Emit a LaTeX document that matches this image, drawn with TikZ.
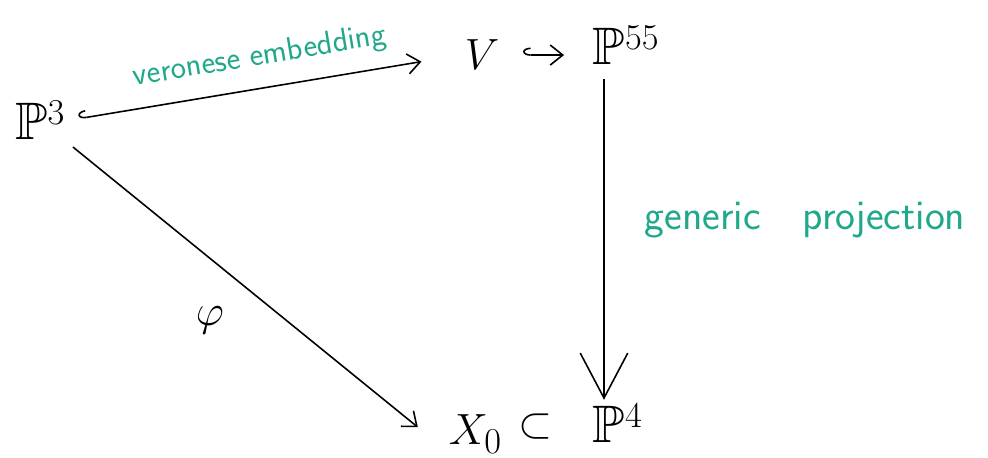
\documentclass[tikz,border=0pt]{standalone}
\usepackage{xcolor}
\usepackage{amsmath}
\usepackage{amssymb}
\DeclareFontFamily{U}{msb}{}
\DeclareFontShape{U}{msb}{m}{n}{<-6> msbm5 <6-8> msbm7 <8-> msbm10}{}
\usetikzlibrary{arrows.meta,positioning,calc}
\definecolor{noteTeal}{HTML}{20A88A}
\tikzset{
  mathObj/.style={
    inner sep=2pt,
    font=\fontsize{30}{36}\selectfont
  },
  noteText/.style={
    text=noteTeal,
    font=\sffamily\fontsize{18.5}{22}\selectfont
  },
  mapArrow/.style={
    -{Straight Barb[length=2.5mm,width=4mm]},
    line width=0.9pt
  },
  embedArrow/.style={
    {Hooks[right,length=1.5mm,width=3mm]}-{Straight Barb[length=2.5mm,width=4mm]},
    line width=0.9pt
  },
  projArrow/.style={
    -{Straight Barb[length=9mm,width=9.5mm]},
    line width=0.9pt
  }
}
\begin{document}
\begin{tikzpicture}
  \useasboundingbox (0,0) rectangle (19.76,9.16);

  \node[mathObj, anchor=base west] (P3) at (0.23,6.36) {$\mathbb{P}^3$};
  \node[mathObj, anchor=base] (V) at (9.64,7.76) {$V$};
  \node[mathObj, anchor=base west] (P55) at (11.78,7.86) {$\mathbb{P}^{55}$};

  \node[mathObj, anchor=base west] (X0) at (8.9,0.26) {$X_0$};
  \node[mathObj] (sub) at (10.72,0.62) {$\subset$};
  \node[mathObj, anchor=base west] (P4) at (11.78,0.30) {$\mathbb{P}^4$};

  \node[mathObj] (phi) at (4.2,2.76) {$\varphi$};
  \node[noteText, font=\sffamily\fontsize{24}{28}\selectfont] (proj) at (16.1,4.76) {generic\quad projection};

  \draw[embedArrow, shorten <=2mm, shorten >=8mm] (P3.east) -- (V.west)
    node[noteText, sloped, above=2mm, pos=0.5] {veronese embedding};
  \draw[embedArrow, shorten <=4mm, shorten >=5mm] (V.east) -- (V.east -| P55.west);
  \draw[mapArrow, shorten <=1mm, shorten >=7mm] (P3.south east) -- ([yshift=-3mm]X0.west);
  \draw[projArrow, shorten <=2mm] ([xshift=3mm]P55.south west) -- ([xshift=3mm]P4.north west);
\end{tikzpicture}
\end{document}
